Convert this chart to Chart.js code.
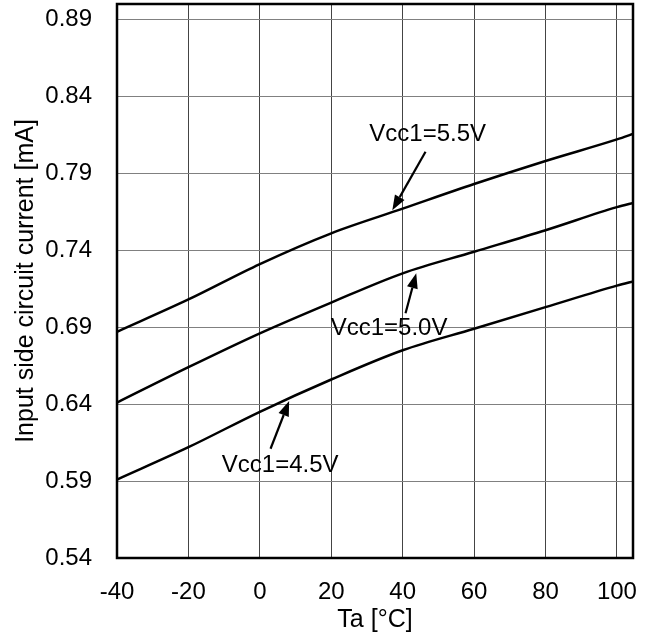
<!DOCTYPE html>
<html>
<head>
<meta charset="utf-8">
<script src="https://cdn.jsdelivr.net/npm/chart.js@4.4.1/dist/chart.umd.min.js"></script>
<style>
  html, body { margin: 0; padding: 0; background: #fff; }
</style>
</head>
<body>
<canvas id="chart" width="647" height="640"></canvas>
<script>
// ── Data ──────────────────────────────────────────────────
const temps  = [-40, -20, 0, 20, 40, 60, 80, 100, 105];
const vcc55  = [0.687, 0.708, 0.731, 0.751, 0.767, 0.783, 0.798, 0.812, 0.816];
const vcc50  = [0.641, 0.664, 0.686, 0.706, 0.725, 0.739, 0.753, 0.768, 0.771];
const vcc45  = [0.591, 0.612, 0.635, 0.656, 0.675, 0.689, 0.703, 0.717, 0.720];
const xTicks = [-40, -20, 0, 20, 40, 60, 80, 100];
const yTicks = [0.54, 0.59, 0.64, 0.69, 0.74, 0.79, 0.84, 0.89];
const seriesNames = ['Vcc1=5.5V', 'Vcc1=5.0V', 'Vcc1=4.5V'];

const FONT = "'Liberation Sans', Arial, sans-serif";
const FONT_SIZE  = 24;
const TITLE_SIZE = 25;

// label anchor + arrow (tail -> tip), in data units
const callouts = [
  { text: seriesNames[0], at: [47.0, 0.815], tail: [46.4, 0.804], tip: [37.1, 0.766] },
  { text: seriesNames[1], at: [36.2, 0.689], tail: [40.8, 0.699], tip: [43.8, 0.725] },
  { text: seriesNames[2], at: [5.7, 0.600],  tail: [3.0, 0.611],  tip: [8.2, 0.642] }
];

const toPoints = ys => temps.map((x, i) => ({ x, y: ys[i] }));

// no extra room for edge tick labels, layout.padding decides the plot box
const noEdgePadding = s => {
  s.paddingTop = 0; s.paddingBottom = 0;
  s.paddingLeft = 0; s.paddingRight = 0;
};

// ── Plugins ───────────────────────────────────────────────
const frame = {
  id: 'frame',
  afterDraw(chart) {
    const { ctx, chartArea: a } = chart;
    ctx.save();
    ctx.strokeStyle = '#000';
    ctx.lineWidth = 2.5;
    ctx.strokeRect(a.left, a.top, a.right - a.left, a.bottom - a.top);
    ctx.restore();
  }
};

const labels = {
  id: 'labels',
  afterDraw(chart) {
    const { ctx, scales: { x, y } } = chart;
    ctx.save();
    ctx.fillStyle = '#000';
    ctx.strokeStyle = '#000';
    ctx.font = FONT_SIZE + 'px ' + FONT;
    ctx.textAlign = 'center';
    ctx.textBaseline = 'middle';
    callouts.forEach(c => {
      ctx.fillText(c.text, x.getPixelForValue(c.at[0]), y.getPixelForValue(c.at[1]));
      const x0 = x.getPixelForValue(c.tail[0]), y0 = y.getPixelForValue(c.tail[1]);
      const x1 = x.getPixelForValue(c.tip[0]),  y1 = y.getPixelForValue(c.tip[1]);
      const ang = Math.atan2(y1 - y0, x1 - x0);
      const len = 15, half = 5.5;
      const bx = x1 - len * Math.cos(ang), by = y1 - len * Math.sin(ang);
      ctx.lineWidth = 2.2;
      ctx.beginPath();
      ctx.moveTo(x0, y0);
      ctx.lineTo(bx, by);
      ctx.stroke();
      ctx.beginPath();
      ctx.moveTo(x1, y1);
      ctx.lineTo(bx + half * Math.sin(ang), by - half * Math.cos(ang));
      ctx.lineTo(bx - half * Math.sin(ang), by + half * Math.cos(ang));
      ctx.closePath();
      ctx.fill();
    });
    ctx.restore();
  }
};

// ── Chart ─────────────────────────────────────────────────
const line = (name, ys) => ({
  label: name,
  data: toPoints(ys),
  borderColor: '#000',
  borderWidth: 2.5,
  pointRadius: 0,
  cubicInterpolationMode: 'monotone',
  fill: false
});

new Chart(document.getElementById('chart'), {
  type: 'line',
  data: {
    datasets: [
      line(seriesNames[0], vcc55),
      line(seriesNames[1], vcc50),
      line(seriesNames[2], vcc45)
    ]
  },
  plugins: [frame, labels],
  options: {
    responsive: false,
    animation: false,
    layout: { padding: { top: 4, right: 14, left: 0, bottom: 0 } },
    plugins: {
      legend: { display: false },
      tooltip: { enabled: false }
    },
    scales: {
      x: {
        type: 'linear',
        min: -40,
        max: 104.5,
        afterBuildTicks: s => { s.ticks = xTicks.map(v => ({ value: v })); },
        afterFit: s => { s.height = 82; noEdgePadding(s); },
        grid:   { color: '#444', lineWidth: 1, drawTicks: false },
        border: { display: false },
        ticks: {
          padding: 20,
          color: '#000',
          maxRotation: 0,
          font: { family: FONT, size: FONT_SIZE },
          callback: v => String(v)
        },
        title: {
          display: true,
          text: 'Ta [°C]',
          color: '#000',
          font: { family: FONT, size: TITLE_SIZE },
          padding: { top: 0, bottom: 5 }
        }
      },
      y: {
        type: 'linear',
        min: 0.54,
        max: 0.90,
        afterBuildTicks: s => { s.ticks = yTicks.map(v => ({ value: v })); },
        afterFit: s => { s.width = 117; noEdgePadding(s); },
        grid:   { color: '#808080', lineWidth: 1, drawTicks: false },
        border: { display: false },
        ticks: {
          padding: 25,
          color: '#000',
          font: { family: FONT, size: FONT_SIZE },
          callback: v => v.toFixed(2)
        },
        title: {
          display: true,
          text: 'Input side circuit current [mA]',
          color: '#000',
          font: { family: FONT, size: TITLE_SIZE },
          padding: { top: 11, bottom: 0 }
        }
      }
    }
  }
});
</script>
</body>
</html>
